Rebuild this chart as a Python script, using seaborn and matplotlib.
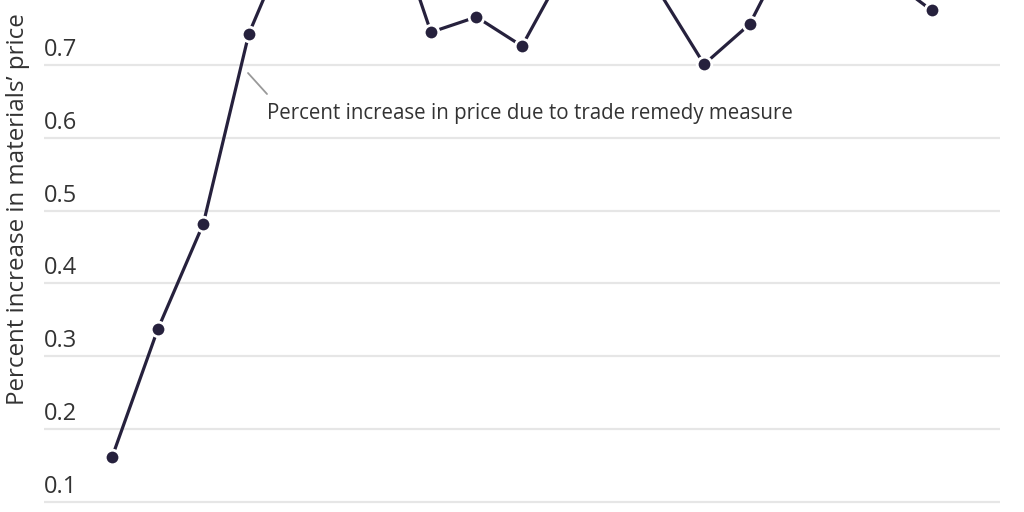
import seaborn as sns
import numpy as np
import pandas as pd
import matplotlib.pyplot as plt
from matplotlib.transforms import blended_transform_factory, offset_copy

# values per step (several points sit above the visible crop, estimated from line slopes)
step = list(range(19))
price_increase = [0.162, 0.337, 0.482, 0.743, 0.89, 0.95, 0.93, 0.745, 0.766, 0.726,
                  0.84, 0.86, 0.802, 0.701, 0.756, 0.878, 0.90, 0.822, 0.775]
ytick_vals = [0.1, 0.2, 0.3, 0.4, 0.5, 0.6, 0.7]
ytick_labels = ["0.1", "0.2", "0.3", "0.4", "0.5", "0.6", "0.7"]
y_title = "Percent increase in materials\u2019 price"
note = "Percent increase in price due to trade remedy measure"

df = pd.DataFrame({"step": step, "value": price_increase})

sns.set_style("white")
plt.rcParams['font.family'] = ['Open Sans', 'DejaVu Sans']

fig = plt.figure(figsize=(10.24, 5.12), dpi=100)
ax = fig.add_axes([44 / 1024, 0, 956 / 1024, 1])

sns.lineplot(data=df, x="step", y="value", ax=ax, color="#26213d", linewidth=2.3,
             marker="o", markersize=10.5, markeredgecolor="white", markeredgewidth=2,
             zorder=3)

ax.set_yticks(ytick_vals)
ax.set_yticklabels([])
ax.set_xticks([])
ax.set_xlim(-1.5, 19.5)
ax.set_ylim(0.0858, 0.7893)
ax.tick_params(length=0)
ax.grid(axis="y", color="#e6e6e6", linewidth=1.6)
ax.set_axisbelow(True)
for s in ax.spines.values():
    s.set_visible(False)
ax.set_xlabel("")
ax.set_ylabel("")

# tick labels sitting above the gridlines
trans = offset_copy(blended_transform_factory(ax.transAxes, ax.transData), fig=fig, x=0, y=3, units="dots")
for v, lab in zip(ytick_vals, ytick_labels):
    ax.text(0, v, lab, transform=trans, ha="left", va="bottom", fontsize=17, color="#333333")

fig.text(18 / 1024, 1 - 209 / 512, y_title, rotation=90, ha="center", va="center",
         fontsize=17.4, color="#333333")

ax.annotate("", xy=(267, 418), xytext=(248, 439), xycoords="figure pixels",
            textcoords="figure pixels",
            arrowprops=dict(arrowstyle="-", color="#999999", lw=1.3, shrinkA=0, shrinkB=0))
ax.annotate(note, xy=(267, 398), xycoords="figure pixels", ha="left", va="center",
            fontsize=14.8, color="#333333")

fig.savefig("out.png", dpi=100)
